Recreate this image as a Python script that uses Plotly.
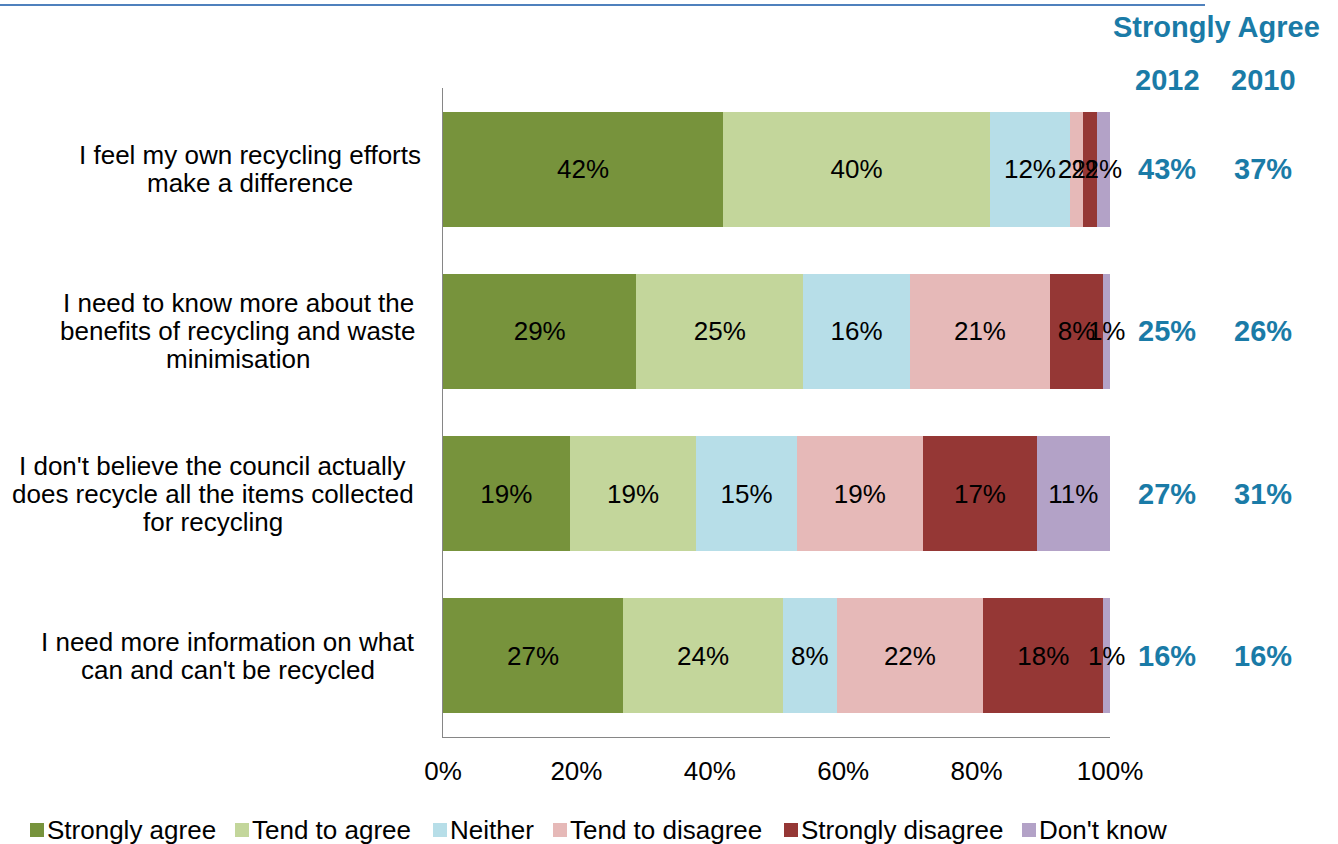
import plotly.graph_objects as go

# Survey statements (top to bottom), one list of wrapped lines per statement
statement_lines = [
    ["I feel my own recycling efforts", "make a difference"],
    ["I need to know more about the", "benefits of recycling and waste", "minimisation"],
    ["I don't believe the council actually", "does recycle all the items collected", "for recycling"],
    ["I need more information on what", "can and can't be recycled"],
]
statements = [" ".join(lines) for lines in statement_lines]

# Response shares (%) per statement
strongly_agree = [42, 29, 19, 27]
tend_to_agree = [40, 25, 19, 24]
neither = [12, 16, 15, 8]
tend_to_disagree = [2, 21, 19, 22]
strongly_disagree = [2, 8, 17, 18]
dont_know = [2, 1, 11, 1]

# "Strongly Agree" comparison columns
agree_2012 = [43, 25, 27, 16]
agree_2010 = [37, 26, 31, 16]

series_names = ["Strongly agree", "Tend to agree", "Neither",
                "Tend to disagree", "Strongly disagree", "Don't know"]
series_values = [strongly_agree, tend_to_agree, neither,
                 tend_to_disagree, strongly_disagree, dont_know]
series_colors = ["#77933C", "#C3D69B", "#B7DEE8", "#E6B9B8", "#953735", "#B3A2C7"]

FONT = "Arial, Liberation Sans, sans-serif"
BLUE = "#1A7BA7"

# Figure geometry (pixels) and helpers to map pixels to paper coordinates
W, H = 1338, 844
M_L, M_R, M_T, M_B = 443, 228, 88, 107
PW, PH = W - M_L - M_R, H - M_T - M_B


def px_x(px):
    return (px - M_L) / PW


def px_y(py):
    return (H - M_B - py) / PH


fig = go.Figure()
for name, vals, color in zip(series_names, series_values, series_colors):
    fig.add_trace(go.Bar(
        name=name,
        y=statements,
        x=[v / 100 for v in vals],
        orientation="h",
        marker=dict(color=color, line=dict(width=0)),
        text=[f"{v}%" for v in vals],
        textposition="inside",
        insidetextanchor="middle",
        textangle=0,
        textfont=dict(family=FONT, size=26, color="black"),
        cliponaxis=False,
        showlegend=False,
        hoverinfo="skip",
    ))

annotations = []
shapes = []

# Category labels: each wrapped line centred on its block, blocks right-aligned to the axis
label_centres_px = [250, 238, 213, 228]
line_gap = 28
for s, lines, cx in zip(statements, statement_lines, label_centres_px):
    n = len(lines)
    for i, line in enumerate(lines):
        annotations.append(dict(
            x=px_x(cx), xref="paper", y=s, yref="y",
            yshift=((n - 1) / 2 - i) * line_gap,
            text=line, showarrow=False, xanchor="center", yanchor="middle",
            font=dict(family=FONT, size=26, color="black"),
        ))

# Right-hand comparison columns
col_2012 = px_x(1167)
col_2010 = px_x(1263)
for s, a, b in zip(statements, agree_2012, agree_2010):
    for xc, v in ((col_2012, a), (col_2010, b)):
        annotations.append(dict(
            x=xc, xref="paper", y=s, yref="y", text=f"<b>{v}%</b>",
            showarrow=False, xanchor="center", yanchor="middle",
            font=dict(family=FONT, size=29, color=BLUE),
        ))
annotations.append(dict(
    x=px_x(1216), xref="paper", y=px_y(27), yref="paper", text="<b>Strongly Agree</b>",
    showarrow=False, xanchor="center", yanchor="middle",
    font=dict(family=FONT, size=29, color=BLUE),
))
for xc, yr in ((col_2012, "2012"), (col_2010, "2010")):
    annotations.append(dict(
        x=xc, xref="paper", y=px_y(80), yref="paper", text=f"<b>{yr}</b>",
        showarrow=False, xanchor="center", yanchor="middle",
        font=dict(family=FONT, size=29, color=BLUE),
    ))

# Legend row along the bottom: colour key square followed by its name
legend_left_px = [30, 235, 433, 553, 784, 1022]
key = 14
legend_mid = 830
for name, color, lx in zip(series_names, series_colors, legend_left_px):
    shapes.append(dict(
        type="rect", xref="paper", yref="paper",
        x0=px_x(lx), x1=px_x(lx + key),
        y0=px_y(legend_mid + key / 2), y1=px_y(legend_mid - key / 2),
        fillcolor=color, line=dict(width=0),
    ))
    annotations.append(dict(
        x=px_x(lx + key + 3), xref="paper", y=px_y(legend_mid), yref="paper",
        text=name, showarrow=False, xanchor="left", yanchor="middle",
        xshift=-2, font=dict(family=FONT, size=26, color="black"),
    ))

# Rule across the top of the page
shapes.append(dict(
    type="line", xref="paper", yref="paper",
    x0=px_x(0), x1=px_x(1205), y0=px_y(5), y1=px_y(5),
    line=dict(color="#4F81BD", width=2),
))

fig.update_layout(
    barmode="stack",
    bargap=0.29,
    width=W, height=H,
    margin=dict(l=M_L, r=M_R, t=M_T, b=M_B, autoexpand=False),
    paper_bgcolor="white", plot_bgcolor="white",
    font=dict(family=FONT, size=26, color="black"),
    uniformtext=dict(minsize=26, mode="show"),
    showlegend=False,
    annotations=annotations,
    shapes=shapes,
)
fig.update_xaxes(
    range=[0, 1], tickvals=[0, 0.2, 0.4, 0.6, 0.8, 1.0], tickformat=".0%",
    showgrid=False, zeroline=False, showline=True, linecolor="#868686", linewidth=1,
    ticks="", ticklabelstandoff=11, tickfont=dict(family=FONT, size=26, color="black"),
    fixedrange=True,
)
fig.update_yaxes(
    autorange="reversed", showticklabels=False, showgrid=False, zeroline=False,
    showline=True, linecolor="#868686", linewidth=1, ticks="", fixedrange=True,
)

fig.write_html("out.html")
